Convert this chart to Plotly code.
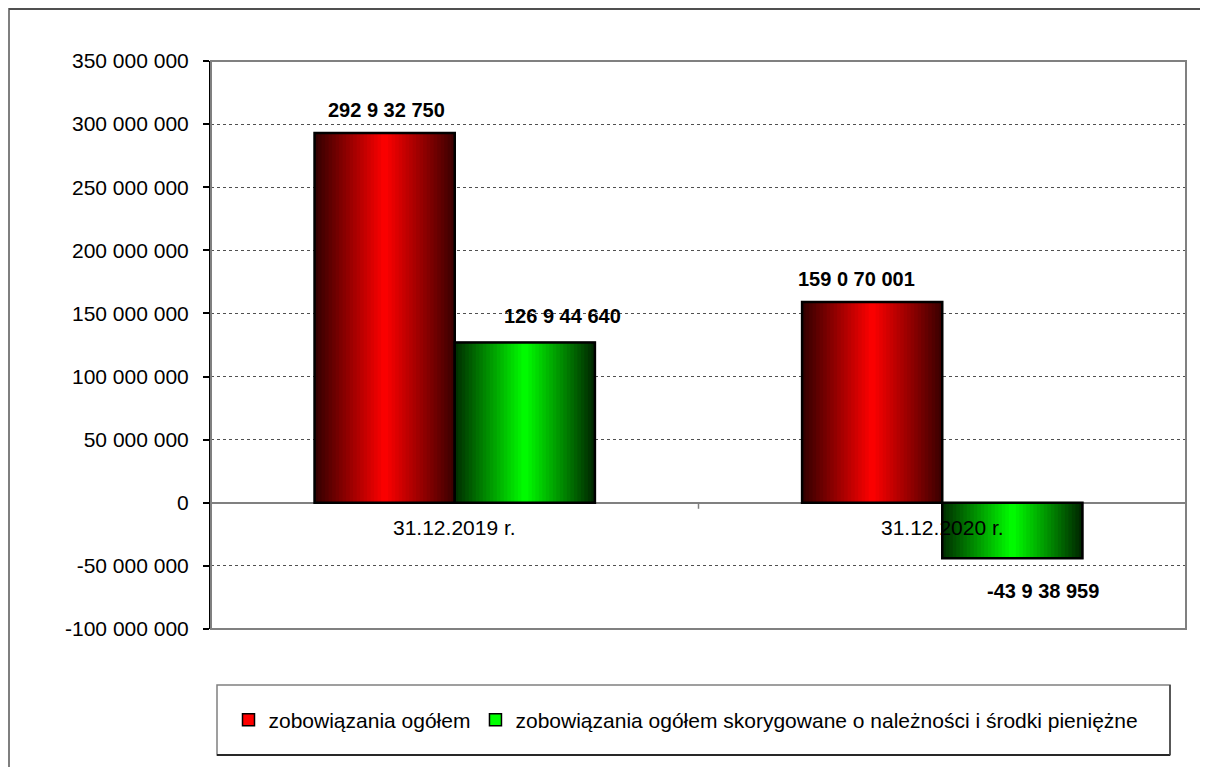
import plotly.graph_objects as go

# ---------------- data ----------------
categories = ["31.12.2019 r.", "31.12.2020 r."]
series_names = [
    "zobowiązania ogółem",
    "zobowiązania ogółem skorygowane o należności i środki pieniężne",
]
liabilities = [292932750, 159070001]
adjusted = [126944640, -43938959]
liabilities_labels = ["292 9 32 750", "159 0 70 001"]
adjusted_labels = ["126 9 44 640", "-43 9 38 959"]
y_tick_values = [-100000000, -50000000, 0, 50000000, 100000000, 150000000,
                 200000000, 250000000, 300000000, 350000000]
y_tick_labels = ["-100 000 000", "-50 000 000", "0", "50 000 000", "100 000 000",
                 "150 000 000", "200 000 000", "250 000 000", "300 000 000",
                 "350 000 000"]

# ---------------- style ----------------
OFF = 8                      # page body margin
W, H = 1200, 759
L, R, T, B = 203, 22, 53, 138
FONT = "Arial, 'Liberation Sans', sans-serif"
BW = 0.2875          # width of one bar in category units
NSL = 40             # gradient slices per bar


def xp(px):  # screen px -> paper
    return (px - OFF - L) / (W - L - R)


def yp(py):  # screen py -> paper
    return (H - B - (py - OFF)) / (H - T - B)


def mix(c1, c2, t):
    return "rgb(%d,%d,%d)" % tuple(round(a + (b - a) * t) for a, b in zip(c1, c2))


def grad(dark_l, bright, dark_r, t, peak=0.5):
    if t <= peak:
        return mix(dark_l, bright, t / peak)
    return mix(bright, dark_r, (t - peak) / (1 - peak))


series = [
    dict(name=series_names[0], vals=liabilities, labels=liabilities_labels,
         base=-BW, dark_l=(48, 0, 0), bright=(255, 0, 0), dark_r=(56, 0, 0),
         solid="#ff0000", xshift=[2, -16], yshift=[23, 23]),
    dict(name=series_names[1], vals=adjusted, labels=adjusted_labels,
         base=0.0, dark_l=(0, 44, 0), bright=(0, 255, 0), dark_r=(0, 36, 0),
         solid="#00ff00", xshift=[38, 31], yshift=[27, -33]),
]

fig = go.Figure()

for s in series:
    # legend / base trace
    fig.add_trace(go.Bar(
        x=categories, y=s["vals"], name=s["name"], offset=s["base"], width=BW,
        marker=dict(color=s["solid"], line=dict(color="#000000", width=1.5)),
        hoverinfo="skip",
    ))
    step = BW / NSL
    for k in range(NSL):
        t = (k + 0.5) / NSL
        wdt = min(step * 1.6, BW - k * step)
        fig.add_trace(go.Bar(
            x=categories, y=s["vals"], offset=s["base"] + k * step, width=wdt,
            marker=dict(color=grad(s["dark_l"], s["bright"], s["dark_r"], t),
                        line=dict(width=0)),
            showlegend=False, hoverinfo="skip",
        ))

# outlines on top
for s in series:
    fig.add_trace(go.Bar(
        x=categories, y=s["vals"], offset=s["base"], width=BW,
        marker=dict(color="rgba(0,0,0,0)", line=dict(color="#000000", width=2.5)),
        showlegend=False, hoverinfo="skip",
    ))

annotations = []
# data labels
for s in series:
    for i, (v, lab) in enumerate(zip(s["vals"], s["labels"])):
        annotations.append(dict(
            x=i + s["base"] + BW / 2, y=v, xref="x", yref="y",
            text="<b>%s</b>" % lab, showarrow=False,
            xanchor="center", yanchor="middle",
            xshift=s["xshift"][i], yshift=s["yshift"][i],
            font=dict(family=FONT, size=20, color="#000000"),
        ))
# category labels at the zero line
for i, c in enumerate(categories):
    annotations.append(dict(
        x=i, y=0, xref="x", yref="y", text=c, showarrow=False,
        xanchor="center", yanchor="middle", yshift=-25,
        font=dict(family=FONT, size=21, color="#000000"),
    ))

shapes = [
    # outer chart border
    dict(type="rect", xref="paper", yref="paper",
         x0=xp(9), x1=xp(1216), y0=yp(776), y1=yp(9),
         line=dict(color="#7f7f7f", width=2), layer="below"),
    dict(type="line", xref="paper", yref="paper",
         x0=xp(9), x1=xp(1216), y0=yp(9), y1=yp(9),
         line=dict(color="#404040", width=1.5), layer="below"),
    # plot area border
    dict(type="rect", xref="paper", yref="paper", x0=0, x1=1, y0=0, y1=1,
         line=dict(color="#808080", width=2), layer="above"),
    # legend box
    dict(type="rect", xref="paper", yref="paper",
         x0=xp(217), x1=xp(1170), y0=yp(755), y1=yp(685),
         line=dict(color="#808080", width=1.5), layer="below"),
    dict(type="line", xref="paper", yref="paper",
         x0=xp(217), x1=xp(1170), y0=yp(755), y1=yp(755),
         line=dict(color="#000000", width=1.5), layer="below"),
    dict(type="line", xref="paper", yref="paper",
         x0=xp(1170), x1=xp(1170), y0=yp(755), y1=yp(685),
         line=dict(color="#404040", width=1.5), layer="below"),
]
# category separator ticks on the zero line
for xv in [-0.5, 0.5, 1.5]:
    shapes.append(dict(type="line", xref="x", yref="y", x0=xv, x1=xv,
                       ysizemode="pixel", yanchor=0, y0=0, y1=-6,
                       line=dict(color="#808080", width=1.5)))

fig.update_layout(
    width=W, height=H,
    margin=dict(l=L, r=R, t=T, b=B, pad=0),
    paper_bgcolor="#ffffff", plot_bgcolor="#ffffff",
    barmode="overlay",
    font=dict(family=FONT, size=21, color="#000000"),
    showlegend=True,
    legend=dict(orientation="h", x=xp(686), xanchor="center",
                y=yp(720), yanchor="middle",
                font=dict(family=FONT, size=21, color="#000000"),
                bgcolor="rgba(0,0,0,0)", itemclick=False, itemdoubleclick=False),
    annotations=annotations,
    shapes=shapes,
    xaxis=dict(range=[-0.5, 1.5], showticklabels=False, ticks="",
               showgrid=False, zeroline=False, showline=False, fixedrange=True),
    yaxis=dict(range=[-100000000, 350000000], tickvals=y_tick_values,
               ticktext=y_tick_labels, ticks="outside", ticklen=6,
               tickcolor="#000000", tickwidth=1.5, ticklabelstandoff=10,
               showline=True, linecolor="#000000", linewidth=2,
               showgrid=True, gridcolor="#505050", griddash="dot", gridwidth=1,
               zeroline=True, zerolinecolor="#808080", zerolinewidth=2,
               tickfont=dict(family=FONT, size=21, color="#000000"),
               fixedrange=True),
)

fig.write_html("out.html")
